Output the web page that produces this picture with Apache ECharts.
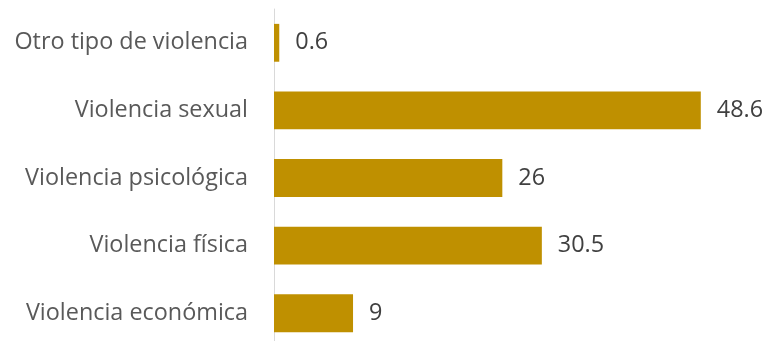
<!DOCTYPE html>
<html><head><meta charset="utf-8">
<script src="https://cdn.jsdelivr.net/npm/echarts@6/dist/echarts.min.js"></script>
<style>html,body{margin:0;padding:0;background:#fff;overflow:hidden}#c{width:765px;height:352px}</style>
</head><body><div id="c"></div>
<script>
const categories = ["Violencia económica", "Violencia física", "Violencia psicológica", "Violencia sexual", "Otro tipo de violencia"];
const values = [9, 30.5, 26, 48.6, 0.6];

const chart = echarts.init(document.getElementById('c'), null, {renderer: 'canvas'});
chart.setOption({
  animation: false,
  grid: {left: 274, right: 8, top: 9, height: 338, containLabel: false},
  xAxis: {type: 'value', min: 0, max: 55, show: false},
  yAxis: {
    type: 'category', data: categories,
    axisLine: {show: true, lineStyle: {color: '#D9D9D9', width: 1}},
    axisTick: {show: false},
    axisLabel: {color: '#595959', fontFamily: 'Open Sans', fontSize: 23.4, margin: 26}
  },
  series: [{
    type: 'bar', data: values, barCategoryGap: '44%',
    itemStyle: {color: '#BF9000'},
    label: {show: true, position: 'right', distance: 16, color: '#404040', fontFamily: 'Open Sans', fontSize: 23.4}
  }]
});
</script></body></html>
